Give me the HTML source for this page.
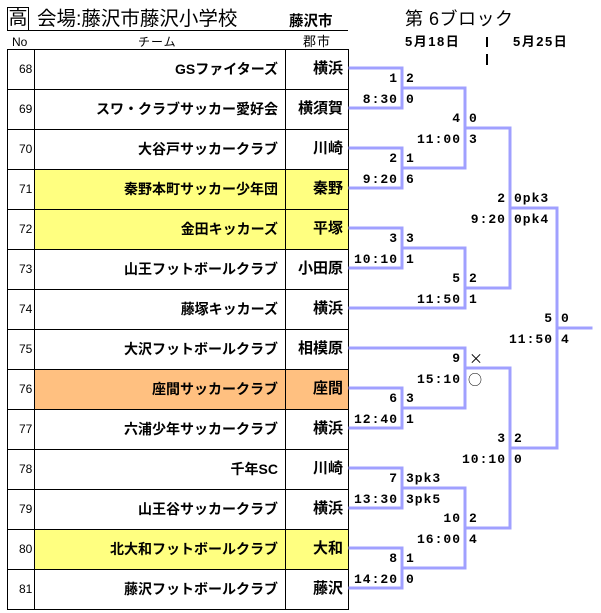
<!DOCTYPE html>
<html><head><meta charset="utf-8">
<style>
html,body{margin:0;padding:0;background:#fff;}
body{width:601px;height:613px;position:relative;overflow:hidden;font-family:"Liberation Sans","Noto Sans CJK JP",sans-serif;color:#000;}
.a{position:absolute;white-space:nowrap;}
.row{position:absolute;left:7px;width:341px;height:40px;}
.no{position:absolute;left:12px;font-size:12px;line-height:40px;height:40px;}
.tm{position:absolute;right:70px;font-size:14px;font-weight:bold;line-height:40px;height:40px;text-align:right;}
.ct{position:absolute;right:5px;font-size:15px;font-weight:bold;line-height:40px;height:40px;text-align:right;}
.l{position:absolute;height:16px;line-height:16px;font-family:"Liberation Mono","Noto Sans CJK JP",monospace;font-weight:bold;font-size:13px;letter-spacing:1px;white-space:nowrap;}
.r{text-align:right;}
.sym{font-family:"Noto Sans CJK JP",sans-serif;font-weight:normal;font-size:14px;}
</style></head><body>

<!-- header -->
<div class="a" style="left:7px;top:7px;width:20px;height:22px;border:1.5px solid #000;font-size:19px;line-height:22px;text-align:center;">高</div>
<div class="a" style="left:37px;top:5px;font-size:19.5px;line-height:28px;">会場:藤沢市藤沢小学校</div>
<div class="a" style="left:289px;top:12px;font-size:14.5px;font-weight:bold;line-height:20px;">藤沢市</div>
<div class="a" style="left:7px;top:30px;width:341px;height:1px;background:#000;"></div>
<div class="a" style="left:12px;top:34px;font-size:12px;line-height:16px;">No</div>
<div class="a" style="left:138px;top:34px;font-size:12px;line-height:16px;letter-spacing:1px;">チーム</div>
<div class="a" style="left:303px;top:34px;font-size:13px;line-height:16px;letter-spacing:1px;">郡市</div>

<div class="a" style="left:405px;top:7px;font-size:18px;line-height:24px;letter-spacing:0.5px;">第 6ブロック</div>
<div class="a" style="left:405px;top:34px;font-size:13px;font-weight:bold;line-height:16px;letter-spacing:1.5px;">5月18日</div>
<div class="a" style="left:513px;top:34px;font-size:13px;font-weight:bold;line-height:16px;letter-spacing:1.5px;">5月25日</div>
<div class="a" style="left:486px;top:37px;width:2px;height:10px;background:#000;"></div>
<div class="a" style="left:486px;top:54px;width:2px;height:11px;background:#000;"></div>

<!-- highlights -->
<div class="a" style="left:34px;top:169px;width:314px;height:80px;background:#FFFF80;"></div>
<div class="a" style="left:34px;top:369px;width:314px;height:40px;background:#FFC080;"></div>
<div class="a" style="left:34px;top:529px;width:314px;height:40px;background:#FFFF80;"></div>

<!-- table grid + bracket lines -->
<svg class="a" style="left:0;top:0;" width="601" height="613" viewBox="0 0 601 613">
<g stroke="#000" stroke-width="1" fill="none" shape-rendering="crispEdges">
<rect x="7.5" y="49.5" width="341" height="560"/>
<line x1="34.5" y1="49" x2="34.5" y2="609"/>
<line x1="285.5" y1="49" x2="285.5" y2="609"/>
<line x1="7" y1="89.5" x2="348" y2="89.5"/>
<line x1="7" y1="129.5" x2="348" y2="129.5"/>
<line x1="7" y1="169.5" x2="348" y2="169.5"/>
<line x1="7" y1="209.5" x2="348" y2="209.5"/>
<line x1="7" y1="249.5" x2="348" y2="249.5"/>
<line x1="7" y1="289.5" x2="348" y2="289.5"/>
<line x1="7" y1="329.5" x2="348" y2="329.5"/>
<line x1="7" y1="369.5" x2="348" y2="369.5"/>
<line x1="7" y1="409.5" x2="348" y2="409.5"/>
<line x1="7" y1="449.5" x2="348" y2="449.5"/>
<line x1="7" y1="489.5" x2="348" y2="489.5"/>
<line x1="7" y1="529.5" x2="348" y2="529.5"/>
<line x1="7" y1="569.5" x2="348" y2="569.5"/>
</g>
<g stroke="#A0A0FF" stroke-width="3" fill="none" stroke-linejoin="miter" stroke-linecap="square">
<polyline points="350,68 402,68 402,108 350,108"/>
<line x1="402" y1="88" x2="465" y2="88"/>
<polyline points="350,148 402,148 402,188 350,188"/>
<line x1="402" y1="168" x2="465" y2="168"/>
<polyline points="350,228 402,228 402,268 350,268"/>
<line x1="402" y1="248" x2="465" y2="248"/>
<polyline points="350,388 402,388 402,428 350,428"/>
<line x1="402" y1="408" x2="465" y2="408"/>
<polyline points="350,468 402,468 402,508 350,508"/>
<line x1="402" y1="488" x2="465" y2="488"/>
<polyline points="350,548 402,548 402,588 350,588"/>
<line x1="402" y1="568" x2="465" y2="568"/>
<line x1="465" y1="88" x2="465" y2="168"/>
<line x1="465" y1="128" x2="510" y2="128"/>
<polyline points="465,248 465,308 350,308"/>
<line x1="465" y1="288" x2="510" y2="288"/>
<polyline points="350,348 465,348 465,408"/>
<line x1="465" y1="368" x2="510" y2="368"/>
<line x1="465" y1="488" x2="465" y2="568"/>
<line x1="465" y1="528" x2="510" y2="528"/>
<line x1="510" y1="128" x2="510" y2="288"/>
<line x1="510" y1="208" x2="557" y2="208"/>
<line x1="510" y1="368" x2="510" y2="528"/>
<line x1="510" y1="448" x2="557" y2="448"/>
<line x1="557" y1="208" x2="557" y2="448"/>
<line x1="557" y1="328" x2="591" y2="328"/>
</g>
</svg>

<!-- rows -->
<div class="row" style="top:49px;"><div class="no">68</div><div class="tm">GSファイターズ</div><div class="ct">横浜</div></div>
<div class="row" style="top:89px;"><div class="no">69</div><div class="tm">スワ・クラブサッカー愛好会</div><div class="ct">横須賀</div></div>
<div class="row" style="top:129px;"><div class="no">70</div><div class="tm">大谷戸サッカークラブ</div><div class="ct">川崎</div></div>
<div class="row" style="top:169px;"><div class="no">71</div><div class="tm">秦野本町サッカー少年団</div><div class="ct">秦野</div></div>
<div class="row" style="top:209px;"><div class="no">72</div><div class="tm">金田キッカーズ</div><div class="ct">平塚</div></div>
<div class="row" style="top:249px;"><div class="no">73</div><div class="tm">山王フットボールクラブ</div><div class="ct">小田原</div></div>
<div class="row" style="top:289px;"><div class="no">74</div><div class="tm">藤塚キッカーズ</div><div class="ct">横浜</div></div>
<div class="row" style="top:329px;"><div class="no">75</div><div class="tm">大沢フットボールクラブ</div><div class="ct">相模原</div></div>
<div class="row" style="top:369px;"><div class="no">76</div><div class="tm">座間サッカークラブ</div><div class="ct">座間</div></div>
<div class="row" style="top:409px;"><div class="no">77</div><div class="tm">六浦少年サッカークラブ</div><div class="ct">横浜</div></div>
<div class="row" style="top:449px;"><div class="no">78</div><div class="tm">千年SC</div><div class="ct">川崎</div></div>
<div class="row" style="top:489px;"><div class="no">79</div><div class="tm">山王谷サッカークラブ</div><div class="ct">横浜</div></div>
<div class="row" style="top:529px;"><div class="no">80</div><div class="tm">北大和フットボールクラブ</div><div class="ct">大和</div></div>
<div class="row" style="top:569px;"><div class="no">81</div><div class="tm">藤沢フットボールクラブ</div><div class="ct">藤沢</div></div>

<!-- match labels -->
<div class="l r" style="right:203px;top:71px;">1</div><div class="l" style="left:406px;top:71px;">2</div>
<div class="l r" style="right:203px;top:92px;">8:30</div><div class="l" style="left:406px;top:92px;">0</div>
<div class="l r" style="right:203px;top:151px;">2</div><div class="l" style="left:406px;top:151px;">1</div>
<div class="l r" style="right:203px;top:172px;">9:20</div><div class="l" style="left:406px;top:172px;">6</div>
<div class="l r" style="right:203px;top:231px;">3</div><div class="l" style="left:406px;top:231px;">3</div>
<div class="l r" style="right:203px;top:252px;">10:10</div><div class="l" style="left:406px;top:252px;">1</div>
<div class="l r" style="right:203px;top:391px;">6</div><div class="l" style="left:406px;top:391px;">3</div>
<div class="l r" style="right:203px;top:412px;">12:40</div><div class="l" style="left:406px;top:412px;">1</div>
<div class="l r" style="right:203px;top:471px;">7</div><div class="l" style="left:406px;top:471px;">3pk3</div>
<div class="l r" style="right:203px;top:492px;">13:30</div><div class="l" style="left:406px;top:492px;">3pk5</div>
<div class="l r" style="right:203px;top:551px;">8</div><div class="l" style="left:406px;top:551px;">1</div>
<div class="l r" style="right:203px;top:572px;">14:20</div><div class="l" style="left:406px;top:572px;">0</div>
<div class="l r" style="right:140px;top:111px;">4</div><div class="l" style="left:469px;top:111px;">0</div>
<div class="l r" style="right:140px;top:132px;">11:00</div><div class="l" style="left:469px;top:132px;">3</div>
<div class="l r" style="right:140px;top:271px;">5</div><div class="l" style="left:469px;top:271px;">2</div>
<div class="l r" style="right:140px;top:292px;">11:50</div><div class="l" style="left:469px;top:292px;">1</div>
<div class="l r" style="right:140px;top:351px;">9</div><div class="l sym" style="left:469px;top:351px;">×</div>
<div class="l r" style="right:140px;top:372px;">15:10</div><div class="l sym" style="left:468px;top:372px;">○</div>
<div class="l r" style="right:140px;top:511px;">10</div><div class="l" style="left:469px;top:511px;">2</div>
<div class="l r" style="right:140px;top:532px;">16:00</div><div class="l" style="left:469px;top:532px;">4</div>
<div class="l r" style="right:95px;top:191px;">2</div><div class="l" style="left:514px;top:191px;">0pk3</div>
<div class="l r" style="right:95px;top:212px;">9:20</div><div class="l" style="left:514px;top:212px;">0pk4</div>
<div class="l r" style="right:95px;top:431px;">3</div><div class="l" style="left:514px;top:431px;">2</div>
<div class="l r" style="right:95px;top:452px;">10:10</div><div class="l" style="left:514px;top:452px;">0</div>
<div class="l r" style="right:48px;top:311px;">5</div><div class="l" style="left:561px;top:311px;">0</div>
<div class="l r" style="right:48px;top:332px;">11:50</div><div class="l" style="left:561px;top:332px;">4</div>

</body></html>
